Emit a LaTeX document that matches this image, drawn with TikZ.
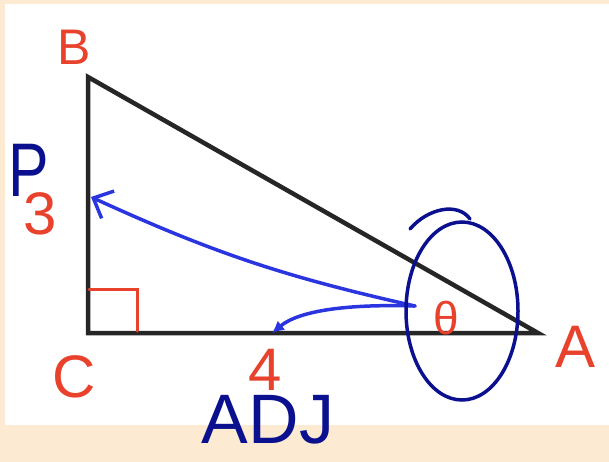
\documentclass[tikz,border=0pt]{standalone}
\usepackage{fontspec}
\setmainfont{Liberation Sans}
\usetikzlibrary{arrows.meta, positioning, calc}
\definecolor{pesca}{HTML}{FDEAD2}
\definecolor{rosso}{HTML}{E8412C}
\definecolor{blu}{HTML}{2A35E0}
\definecolor{blunotte}{HTML}{0A108E}
\tikzset{
  lato/.style={line width=4.5pt, black!85, line join=miter},
  etich/.style={text=rosso, font=\fontsize{60}{60}\selectfont, inner sep=0pt},
  scritta/.style={text=blunotte, font=\fontsize{70}{70}\selectfont, inner sep=0pt},
  freccia/.style={blu, line width=3.5pt, line cap=round}
}

\begin{document}
\begin{tikzpicture}[x=1pt, y=-1pt]
    \useasboundingbox (0,0) rectangle (609,462);
    % Sfondo
    \fill[pesca] (0,0) rectangle (609,462);
    \fill[white] (5,4) rectangle (609,425);

    % Il triangolo rettangolo
    \coordinate (B) at (88,77);
    \coordinate (C) at (88,333);
    \coordinate (A) at (538,333);
    \draw[lato] (B) -- (C) -- (A) -- cycle;
    \draw[rosso, line width=3pt, line cap=round] (89,289) -- (137,289) -- (137,331);

    % Vertici e lati (rossi)
    \node[etich, font=\fontsize{50}{50}\selectfont] (labB) at (74,47) {B};
    \node[etich] (labC) at (74,377) {C};
    \node[etich] (labA) at (575,347) {A};
    \node[etich] (lab3) at (40,214) {3};
    \node[etich] (lab4) at (265,370) {4};
    \node[etich, font=\fontsize{46}{46}\selectfont] (theta) at (446,318) {θ};

    % Scritte a mano (blu)
    \node[scritta, font=\fontsize{76}{76}\selectfont, xscale=0.8] (labP) at (29,170) {P};
    \node[scritta] (labADJ) at (268,420) {ADJ};

    % Frecce dall'angolo
    \coordinate (ang) at (415,306);
    \coordinate (opp) at (91,197);
    \coordinate (adj) at (272,333);
    \draw[freccia, -{Straight Barb[length=16pt, width=30pt]}] (ang) to[bend left=6] (opp);
    \draw[freccia, -{Latex[length=12pt, width=12pt]}] (ang) .. controls (350,304) and (300,310) .. (adj);

    % L'ellisse attorno a theta
    \draw[blunotte, line width=3.5pt] (462,311) ellipse [x radius=56pt, y radius=89pt];
    \draw[blunotte, line width=3.5pt, line cap=round] (410,229) .. controls (428,208) and (458,202) .. (470,219);
\end{tikzpicture}
\end{document}
